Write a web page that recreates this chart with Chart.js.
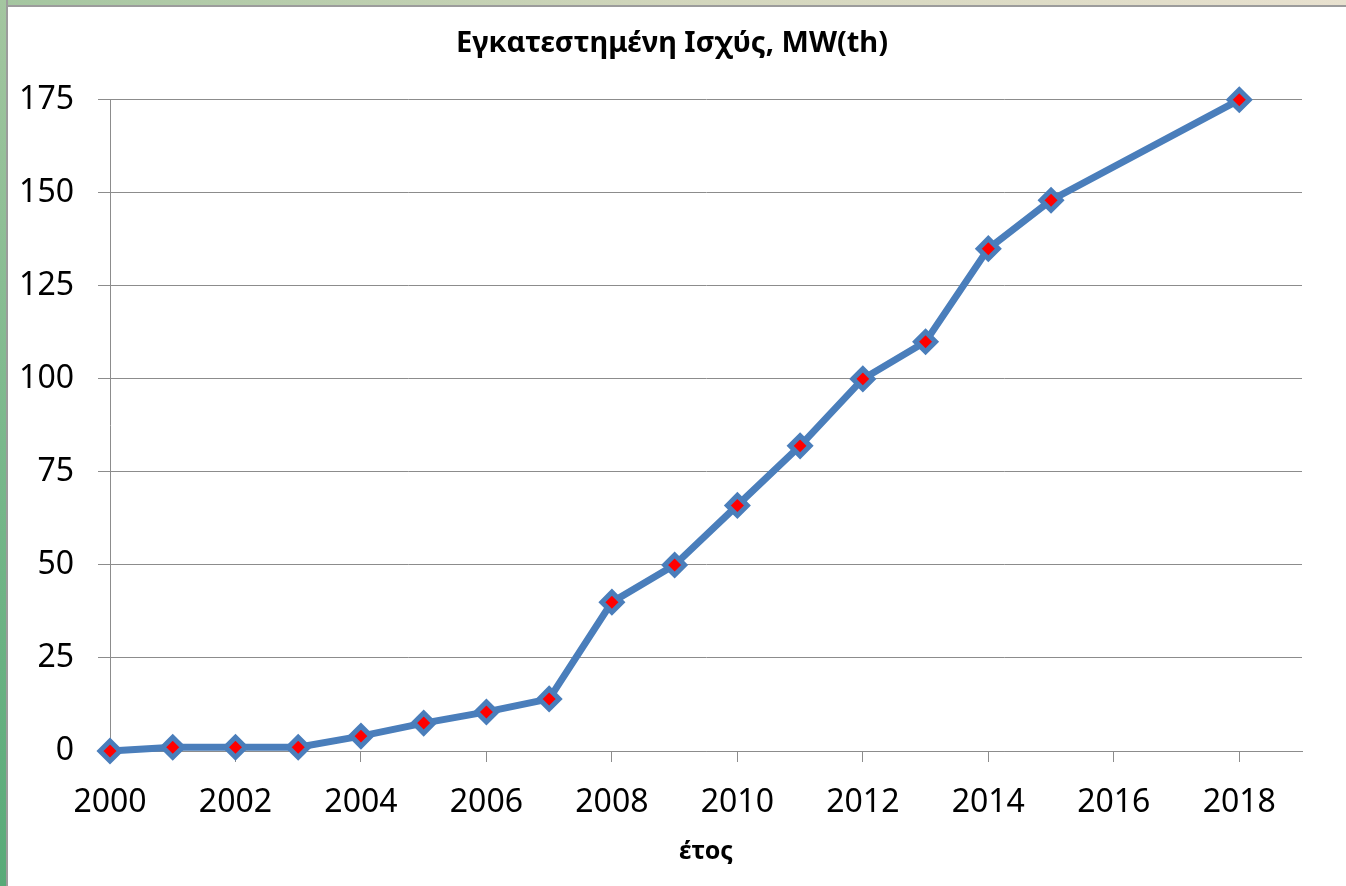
<!DOCTYPE html>
<html lang="el">
<head>
    <meta charset="UTF-8">
    <title>Εγκατεστημένη Ισχύς, MW(th)</title>
    <script src="https://cdn.jsdelivr.net/npm/chart.js"></script>
    <style>
        html, body {
            margin: 0;
            padding: 0;
            width: 1346px;
            height: 886px;
            overflow: hidden;
            background: #fff;
        }
        #topStrip {
            position: absolute;
            left: 0; top: 0;
            width: 1346px; height: 5px;
            background: linear-gradient(90deg, #a4c6a0, #d2d6bc 50%, #e8e1cf);
            border-bottom: 2px solid #9c9c9c;
        }
        #leftStrip {
            position: absolute;
            left: 0; top: 0;
            width: 6px; height: 886px;
            background: linear-gradient(180deg, #a4c6a0, #7ab88c 50%, #58aa78);
            border-right: 2px solid #9c9c9c;
        }
        #wrap {
            position: absolute;
            left: 8px; top: 7px;
            width: 1338px; height: 879px;
        }
    </style>
</head>
<body>
<div id="topStrip"></div>
<div id="leftStrip"></div>
<div id="wrap"><canvas id="powerChart"></canvas></div>

<script>
    // values
    const years = [2000, 2001, 2002, 2003, 2004, 2005, 2006, 2007, 2008, 2009, 2010, 2011, 2012, 2013, 2014, 2015, 2018];
    const capacity = [0, 1, 1, 1, 4, 7.5, 10.5, 14, 40, 50, 66, 82, 100, 110, 135, 148, 175];

    const titleText = 'Εγκατεστημένη Ισχύς, MW(th)';
    const xTitle = 'έτος';

    const blue = '#4a7ebb';
    const gridGray = '#8c8c8c';
    const font = 'Noto Sans';

    // nudge the title a bit right, the original is centred on the whole frame
    const titleShift = {
        id: 'titleShift',
        afterLayout(chart) {
            chart.titleBlock.left += 34;
        }
    };

    const ctx = document.getElementById('powerChart').getContext('2d');
    new Chart(ctx, {
        type: 'line',
        data: {
            datasets: [{
                data: years.map((y, i) => ({ x: y, y: capacity[i] })),
                borderColor: blue,
                borderWidth: 7,
                pointStyle: 'rectRot',
                pointRadius: 10,
                pointBorderWidth: 5,
                pointBackgroundColor: '#ff0000',
                pointBorderColor: blue,
                pointHoverRadius: 10,
                tension: 0,
                clip: false
            }]
        },
        options: {
            responsive: true,
            maintainAspectRatio: false,
            animation: false,
            events: [],
            layout: { padding: { left: 0, right: 44, top: 0, bottom: 19 } },
            plugins: {
                legend: { display: false },
                tooltip: { enabled: false },
                title: {
                    display: true,
                    text: titleText,
                    color: '#000',
                    font: { family: font, size: 29, weight: 'bold' },
                    padding: { top: 19, bottom: 39 }
                }
            },
            scales: {
                x: {
                    type: 'linear',
                    min: 2000,
                    max: 2019,
                    ticks: {
                        stepSize: 2,
                        includeBounds: false,
                        autoSkip: false,
                        maxRotation: 0,
                        padding: 22,
                        color: '#000',
                        font: { family: font, size: 32 },
                        callback: v => String(v)
                    },
                    grid: {
                        drawOnChartArea: false,
                        drawTicks: true,
                        tickLength: 11,
                        color: gridGray
                    },
                    border: { display: true, color: gridGray },
                    title: {
                        display: true,
                        text: xTitle,
                        color: '#000',
                        font: { family: font, size: 25, weight: 'bold' },
                        padding: 0
                    },
                    afterFit: scale => { scale.height = 116; }
                },
                y: {
                    min: 0,
                    max: 175,
                    ticks: {
                        stepSize: 25,
                        padding: 24,
                        color: '#000',
                        font: { family: font, size: 32 }
                    },
                    grid: {
                        color: gridGray,
                        tickLength: 12
                    },
                    border: { display: true, color: gridGray },
                    afterFit: scale => { scale.width = 102; }
                }
            }
        },
        plugins: [titleShift]
    });
</script>
</body>
</html>
